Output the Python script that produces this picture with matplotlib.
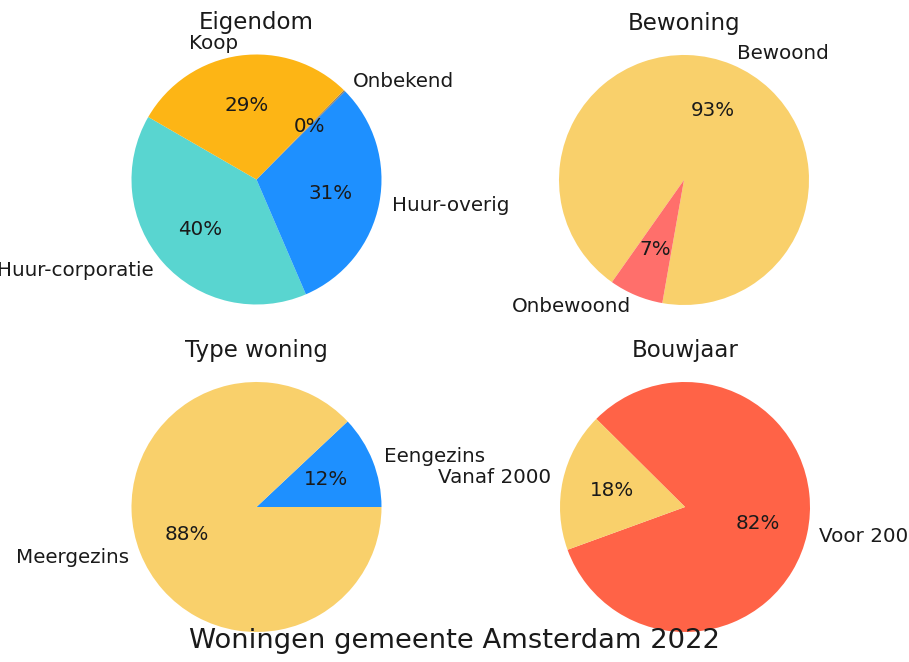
import matplotlib.pyplot as plt

# Eigendom
eig_labels = ["Huur-corporatie", "Huur-overig", "Onbekend", "Koop"]
eig_values = [39.8, 31.0, 0.2, 29.0]
eig_colors = ["#59d5d0", "#1e90ff", "#7f7f7f", "#fdb515"]

# Bewoning
bew_labels = ["Bewoond", "Onbewoond"]
bew_values = [93, 7]
bew_colors = ["#f9d06b", "#ff6f6b"]

# Type woning
typ_labels = ["Eengezins", "Meergezins"]
typ_values = [12, 88]
typ_colors = ["#1e90ff", "#f9d06b"]

# Bouwjaar
bj_labels = ["Voor 2000", "Vanaf 2000"]
bj_values = [82, 18]
bj_colors = ["#ff6347", "#f9d06b"]

fig = plt.figure(figsize=(9.09, 6.62), dpi=100)

w, h = 0.30253, 0.41541
ax1 = fig.add_axes([0.13091, 0.52115, w, h])
ax2 = fig.add_axes([0.60121, 0.5204, w, h])
ax3 = fig.add_axes([0.13091, 0.02644, w, h])
ax4 = fig.add_axes([0.60231, 0.02644, w, h])

txt = {"fontsize": 14.3, "color": "#1a1a1a"}

charts = [
    (ax1, eig_values, eig_labels, eig_colors, 150, "Eigendom"),
    (ax2, bew_values, bew_labels, bew_colors, 260, "Bewoning"),
    (ax3, typ_values, typ_labels, typ_colors, 0, "Type woning"),
    (ax4, bj_values, bj_labels, bj_colors, 200, "Bouwjaar"),
]

for ax, vals, labs, cols, start, title in charts:
    ax.pie(vals, labels=labs, colors=cols, autopct="%1.0f%%",
           startangle=start, textprops=txt)
    ax.set_xlim(-1.1, 1.1)
    ax.set_ylim(-1.1, 1.1)
    ax.set_title(title, fontsize=16.5, pad=9, color="#1a1a1a")

fig.suptitle("Woningen gemeente Amsterdam 2022", y=0.021, va="baseline",
             fontsize=19.7, color="#1a1a1a")

fig.savefig("out.png", dpi=100)
